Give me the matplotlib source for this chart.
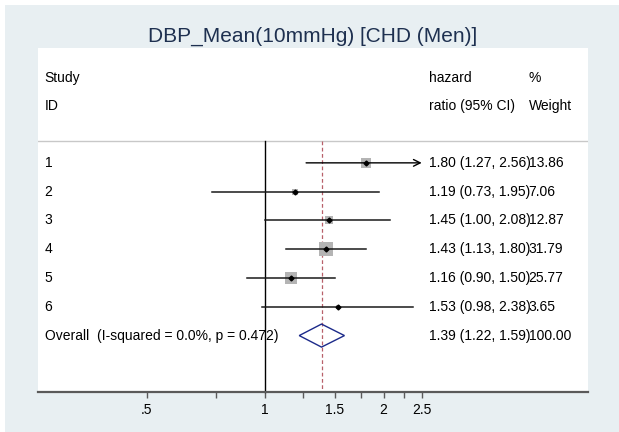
import numpy as np
import matplotlib
matplotlib.use('Agg')
import matplotlib.pyplot as plt
from matplotlib.patches import Rectangle, Polygon

plt.rcParams['font.family'] = ['Liberation Sans', 'DejaVu Sans']

# study level data (hazard ratios with 95% CI and % weight)
studies = ['1', '2', '3', '4', '5', '6']
hr = [1.80, 1.19, 1.45, 1.43, 1.16, 1.53]
ci_lo = [1.27, 0.73, 1.00, 1.13, 0.90, 0.98]
ci_hi = [2.56, 1.95, 2.08, 1.80, 1.50, 2.38]
weights = [13.86, 7.06, 12.87, 31.79, 25.77, 3.65]

# pooled estimate
overall_label = 'Overall  (I-squared = 0.0%, p = 0.472)'
overall_hr = 1.39
overall_lo = 1.22
overall_hi = 1.59
overall_weight = 100.00

title = 'DBP_Mean(10mmHg) [CHD (Men)]'
xticks_major = [0.5, 1, 1.5, 2, 2.5]
xtick_labels = ['.5', '1', '1.5', '2', '2.5']
xticks_minor = [0.75, 1.25, 1.75, 2.25]

W, H = 619, 432
BG = '#e8eff2'

fig = plt.figure(figsize=(W / 100, H / 100), dpi=100)
fig.patch.set_facecolor('white')
fig.add_artist(Rectangle((5 / W, 0), 1 - 5 / W, 1 - 5 / H, transform=fig.transFigure,
                         facecolor=BG, edgecolor='none', zorder=0))

# plot region (white), in pixels: x 38..588, y 48..392
ax = fig.add_axes([38 / W, (H - 392) / H, 550 / W, 344 / H])
ax.set_facecolor('white')
ax.set_xscale('log')
ax.set_xlim(0.2641, 6.622)
ax.set_ylim(7.96, -3.99)

for s in ['top', 'left', 'right']:
    ax.spines[s].set_visible(False)
ax.spines['bottom'].set_color('#5a5a5a')
ax.spines['bottom'].set_linewidth(1.6)

ax.set_xticks(xticks_major)
ax.set_xticklabels(xtick_labels)
ax.set_xticks(xticks_minor, minor=True)
ax.xaxis.set_minor_formatter(matplotlib.ticker.NullFormatter())
ax.tick_params(axis='x', which='both', length=4, width=1, color='#5a5a5a',
               labelsize=10, pad=4, labelcolor='black')
ax.set_yticks([])

n = len(studies)
y_top = -0.757
y_bot = 7.96
clip = max(xticks_major)

# separator line and reference lines
ax.axhline(y_top, color='#c8c8c8', lw=1, zorder=1)
ax.plot([1, 1], [y_top, y_bot], color='black', lw=1, zorder=2, clip_on=False)
ax.plot([overall_hr, overall_hr], [y_top, y_bot], color='#b8606a', lw=0.9,
        linestyle=(0, (3, 2)), zorder=2)

# study rows
for i in range(n):
    side = 1.8 * np.sqrt(weights[i])
    ax.plot(hr[i], i, marker='s', markersize=side, color='#b4b4b4',
            markeredgewidth=0, zorder=3)
    if ci_hi[i] > clip:
        ax.annotate('', xy=(clip, i), xytext=(ci_lo[i], i),
                    arrowprops=dict(arrowstyle='->', lw=1, color='black',
                                    shrinkA=0, shrinkB=0, mutation_scale=12),
                    zorder=4)
    else:
        ax.plot([ci_lo[i], ci_hi[i]], [i, i], color='#1a1a1a', lw=1.1, zorder=4)
    ax.plot(hr[i], i, marker='D', markersize=2.5, color='black', zorder=5)

# overall diamond
yo = n
h = 0.40
diamond = Polygon([(overall_lo, yo), (overall_hr, yo - h), (overall_hi, yo),
                   (overall_hr, yo + h)], closed=True, facecolor='none',
                  edgecolor='#1c2a8a', lw=1, zorder=4)
ax.add_patch(diamond)

# text columns
tr = ax.get_yaxis_transform()
x_id, x_ci, x_w = 0.012, 0.711, 0.892
fs = 10
ax.text(x_id, -2.95, 'Study', transform=tr, fontsize=fs, va='center')
ax.text(x_id, -1.97, 'ID', transform=tr, fontsize=fs, va='center')
ax.text(x_ci, -2.95, 'hazard', transform=tr, fontsize=fs, va='center')
ax.text(x_ci, -1.97, 'ratio (95% CI)', transform=tr, fontsize=fs, va='center')
ax.text(x_w, -2.95, '%', transform=tr, fontsize=fs, va='center')
ax.text(x_w, -1.97, 'Weight', transform=tr, fontsize=fs, va='center')

for i in range(n):
    ax.text(x_id, i, studies[i], transform=tr, fontsize=fs, va='center')
    ax.text(x_ci, i, '%.2f (%.2f, %.2f)' % (hr[i], ci_lo[i], ci_hi[i]),
            transform=tr, fontsize=fs, va='center')
    ax.text(x_w, i, '%.2f' % weights[i], transform=tr, fontsize=fs, va='center')

ax.text(x_id, yo, overall_label, transform=tr, fontsize=fs, va='center', zorder=6)
ax.text(x_ci, yo, '%.2f (%.2f, %.2f)' % (overall_hr, overall_lo, overall_hi),
        transform=tr, fontsize=fs, va='center')
ax.text(x_w, yo, '%.2f' % overall_weight, transform=tr, fontsize=fs, va='center')

fig.text(313 / W, 1 - 36 / H, title, ha='center', va='center', fontsize=15,
         color='#1e3050')

fig.savefig('out.png', dpi=100)
